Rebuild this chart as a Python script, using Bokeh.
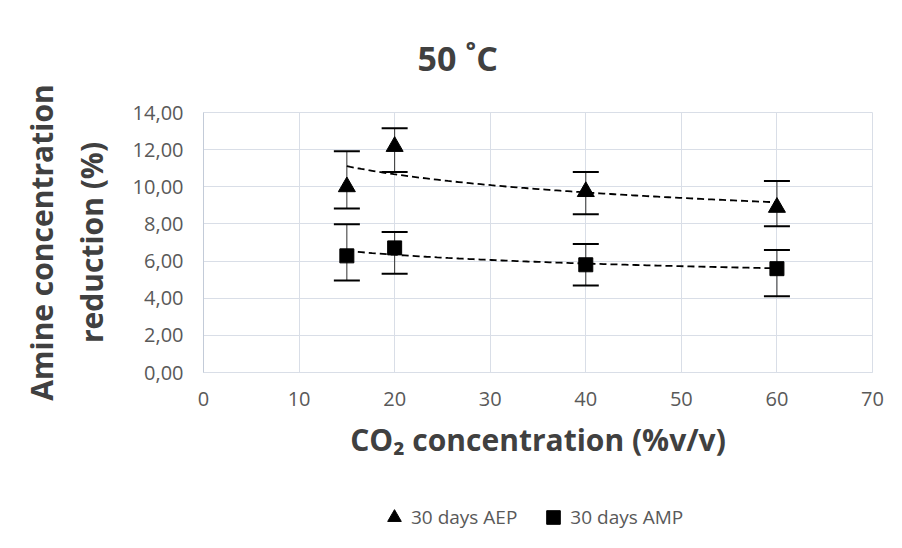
import numpy as np
from bokeh.plotting import figure
from bokeh.layouts import column
from bokeh.models import (ColumnDataSource, Whisker, TeeHead, Legend,
                          LegendItem, FixedTicker)
from bokeh.embed import file_html
from bokeh.resources import INLINE

# ---------------- data ----------------
co2 = [15, 20, 40, 60]

aep = [10.00, 12.17, 9.74, 8.89]
aep_upper = [11.92, 13.15, 10.80, 10.31]
aep_lower = [8.83, 10.80, 8.52, 7.88]

amp = [6.28, 6.71, 5.80, 5.59]
amp_upper = [7.98, 7.56, 6.92, 6.60]
amp_lower = [4.95, 5.32, 4.68, 4.10]

x_ticks = [0, 10, 20, 30, 40, 50, 60, 70]
y_ticks = [0, 2, 4, 6, 8, 10, 12, 14]
y_tick_labels = ["0,00", "2,00", "4,00", "6,00", "8,00", "10,00", "12,00", "14,00"]

series_names = ["30 days AEP", "30 days AMP"]
title_text = "50 ˚C"
x_title = "CO₂ concentration (%v/v)"
y_title = "Amine concentration\nreduction (%)"

FONT = "Open Sans"
DARK = "#404040"
MID = "#595959"
GRID = "#d9dee7"


def power_trend(x, y):
    b, lna = np.polyfit(np.log(x), np.log(y), 1)
    xs = np.linspace(min(x), max(x), 120)
    return xs, np.exp(lna) * xs ** b


p = figure(width=886, height=490, x_range=(0, 70), y_range=(0, 14),
           output_backend="svg", toolbar_location=None,
           min_border_left=203, min_border_right=14,
           min_border_top=109, min_border_bottom=118)
p.background_fill_color = "white"
p.border_fill_color = "white"
p.outline_line_color = GRID

# title
p.title.text = title_text
p.title.align = "left"
p.title.offset = 214
p.title.standoff = 64
p.title.text_font = FONT
p.title.text_font_size = "34px"
p.title.text_font_style = "bold"
p.title.text_color = DARK

p.xaxis.ticker = FixedTicker(ticks=x_ticks)
p.yaxis.ticker = FixedTicker(ticks=y_ticks)
p.yaxis.major_label_overrides = {t: l for t, l in zip(y_ticks, y_tick_labels)}

for ax in (p.xaxis, p.yaxis):
    ax.major_tick_line_color = None
    ax.minor_tick_line_color = None
    ax.major_tick_out = 0
    ax.major_tick_in = 0
    ax.minor_tick_out = 0
    ax.major_label_text_font = FONT
    ax.major_label_text_font_size = "20px"
    ax.major_label_text_color = MID
    ax.axis_label_text_font = FONT
    ax.axis_label_text_font_size = "30px"
    ax.axis_label_text_font_style = "bold"
    ax.axis_label_text_color = DARK
p.xaxis.axis_line_color = GRID
p.yaxis.axis_line_color = "#c3cbd8"
p.xaxis.major_label_standoff = 19
p.yaxis.major_label_standoff = 20
p.xaxis.axis_label = x_title
p.xaxis.axis_label_standoff = 10
p.yaxis.axis_label = y_title
p.yaxis.axis_label_standoff = 18

p.grid.grid_line_color = GRID
p.grid.grid_line_width = 1

# trend lines (power fit of each series)
tx, ty = power_trend(co2, aep)
p.line(tx, ty, line_color="black", line_width=1.8, line_dash="7 4")
tx2, ty2 = power_trend(co2, amp)
p.line(tx2, ty2, line_color="black", line_width=1.8, line_dash="7 4")

# error bars
src_aep = ColumnDataSource(dict(x=co2, y=aep, upper=aep_upper, lower=aep_lower))
src_amp = ColumnDataSource(dict(x=co2, y=amp, upper=amp_upper, lower=amp_lower))
for src in (src_aep, src_amp):
    w = Whisker(source=src, base="x", upper="upper", lower="lower",
                line_color="#303030", line_width=1,
                upper_head=TeeHead(size=26, line_width=2, line_color="black"),
                lower_head=TeeHead(size=26, line_width=2, line_color="black"))
    p.add_layout(w)

p.scatter("x", "y", source=src_aep, marker="triangle", size=17,
          fill_color="black", line_color="black")
p.scatter("x", "y", source=src_amp, marker="square", size=14,
          fill_color="black", line_color="black")

# ---- legend strip below the chart (same series, same marker styles) ----
leg = figure(width=886, height=54, x_range=(0, 1), y_range=(0, 1),
             output_backend="svg", toolbar_location=None,
             x_axis_type=None, y_axis_type=None,
             min_border_left=203, min_border_right=14,
             min_border_top=0, min_border_bottom=0)
leg.grid.visible = False
leg.outline_line_color = None
leg.background_fill_color = "white"
leg.border_fill_color = "white"
lr1 = leg.scatter("x", "y", source=src_aep, marker="triangle", size=17,
                  fill_color="black", line_color="black")
lr2 = leg.scatter("x", "y", source=src_amp, marker="square", size=14,
                  fill_color="black", line_color="black")
legend = Legend(items=[LegendItem(label=series_names[0], renderers=[lr1]),
                       LegendItem(label=series_names[1], renderers=[lr2])],
                orientation="horizontal", location=(174, 10),
                glyph_width=34, glyph_height=34, label_standoff=0, spacing=19,
                padding=0, margin=0, border_line_color=None,
                background_fill_alpha=0,
                label_text_font=FONT, label_text_font_size="19px",
                label_text_color=MID)
leg.add_layout(legend)

layout = column(p, leg, spacing=0)
open("out.html", "w").write(file_html(layout, INLINE))
